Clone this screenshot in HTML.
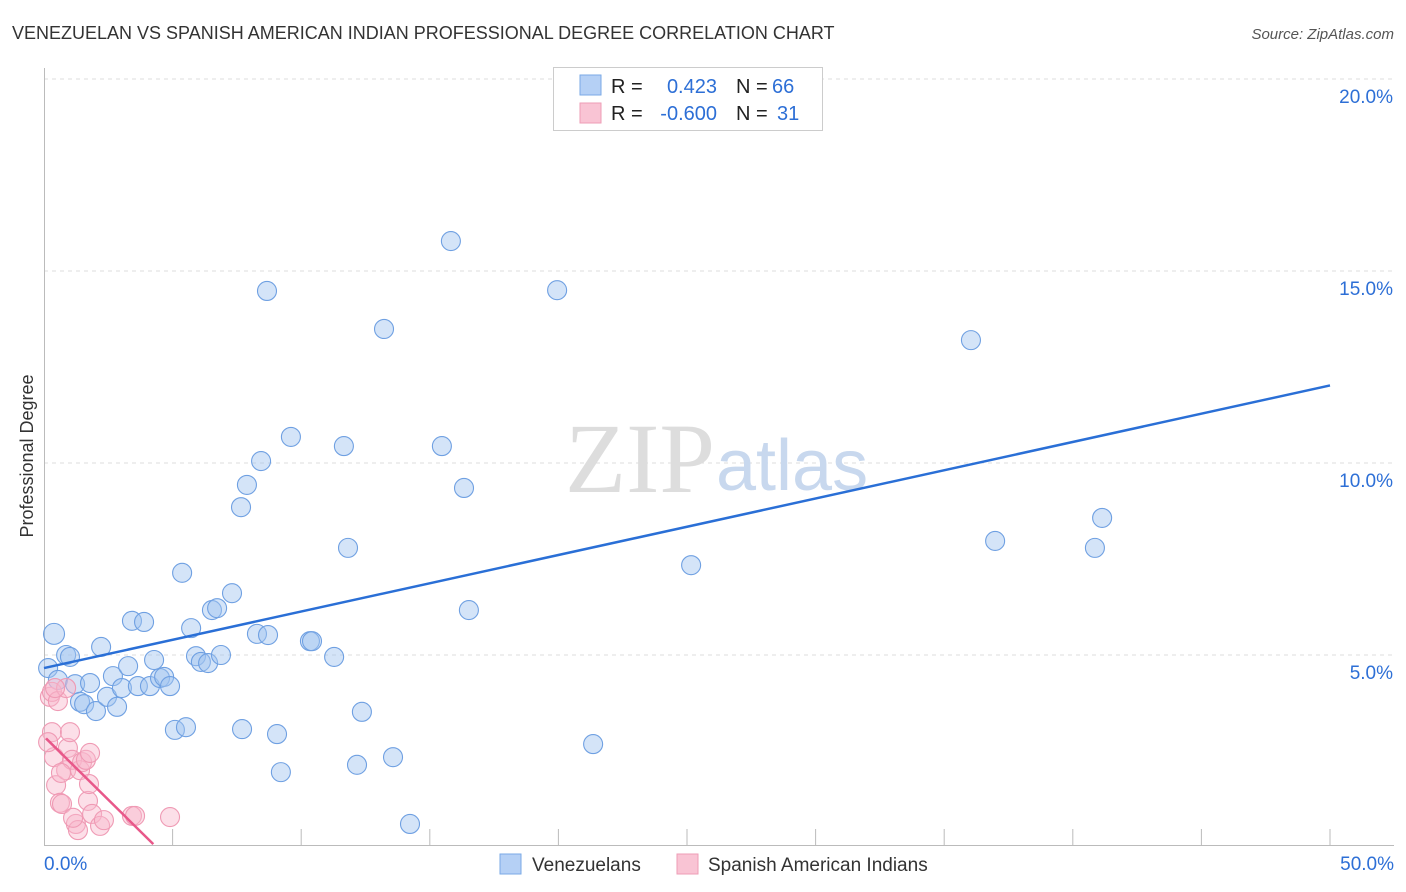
<!DOCTYPE html>
<html><head><meta charset="utf-8"><style>
body{margin:0;background:#fff;font-family:"Liberation Sans",sans-serif;}
svg{display:block}
</style></head><body>
<svg id="chart" width="1406" height="892" font-family="Liberation Sans, sans-serif">
<text x="12" y="39" font-size="18" fill="#333">VENEZUELAN VS SPANISH AMERICAN INDIAN PROFESSIONAL DEGREE CORRELATION CHART</text>
<text x="1394" y="39" font-size="15" fill="#555" font-style="italic" text-anchor="end">Source: ZipAtlas.com</text>
<text x="0" y="0" transform="translate(33,456) rotate(-90)" font-size="18" fill="#333" text-anchor="middle">Professional Degree</text>
<g id="grid"></g>
<text x="715" y="492" font-size="100" fill="#ddd" text-anchor="end" font-family="Liberation Serif, serif">ZIP</text>
<text x="716" y="490" font-size="72" fill="#c8d8ee">atlas</text>
<g id="pts"></g>
<g id="lines"></g>
<g>
<rect x="553.5" y="67.5" width="269" height="63" fill="#fff" stroke="#ccc"/>
<rect x="580" y="75" width="21" height="20" fill="#b5d0f5" stroke="#7aa9e6"/>
<rect x="580" y="103" width="21" height="20" fill="#f9c4d4" stroke="#ee9db6"/>
<text x="611" y="93" font-size="20" fill="#222">R =</text>
<text x="717" y="93" font-size="20" fill="#2d6fd6" text-anchor="end">0.423</text>
<text x="736" y="93" font-size="20" fill="#222">N =</text>
<text x="772" y="93" font-size="20" fill="#2d6fd6">66</text>
<text x="611" y="120" font-size="20" fill="#222">R =</text>
<text x="717" y="120" font-size="20" fill="#2d6fd6" text-anchor="end">-0.600</text>
<text x="736" y="120" font-size="20" fill="#222">N =</text>
<text x="777" y="120" font-size="20" fill="#2d6fd6">31</text>
</g>
<g>
<rect x="500" y="854" width="21" height="20" fill="#b5d0f5" stroke="#7aa9e6"/>
<text x="532" y="871" font-size="19" fill="#333">Venezuelans</text>
<rect x="677" y="854" width="21" height="20" fill="#f9c4d4" stroke="#ee9db6"/>
<text x="708" y="871" font-size="19" fill="#333">Spanish American Indians</text>
</g>
</svg>
<script>
const blueX=[0.39,0.16,0.54,0.86,1.01,1.21,1.40,1.56,1.79,2.02,2.22,2.45,2.68,2.84,3.03,3.27,3.42,3.65,3.89,4.12,4.28,4.51,4.67,4.90,5.09,5.37,5.52,5.72,5.91,6.10,6.38,6.53,6.73,6.88,7.31,7.66,7.70,7.89,8.28,8.44,8.67,8.71,9.06,9.21,9.60,10.34,10.42,11.28,11.66,11.82,12.17,12.36,13.22,13.57,14.23,15.47,15.82,16.33,16.52,19.95,21.35,25.16,36.04,36.98,40.86,41.14];
const blueY=[5.55,4.66,4.35,5.0,4.95,4.24,3.78,3.72,4.27,3.54,5.21,3.91,4.45,3.65,4.14,4.71,5.89,4.19,5.86,4.19,4.87,4.40,4.43,4.19,3.05,7.14,3.12,5.70,4.97,4.82,4.79,6.17,6.22,5.0,6.61,8.85,3.07,9.43,5.55,10.05,14.48,5.52,2.94,1.95,10.68,5.36,5.36,4.95,10.44,7.79,2.14,3.52,13.49,2.34,0.60,10.44,15.78,9.35,6.17,14.5,2.68,7.34,13.20,7.97,7.79,8.57];
const pinkX=[0.23,0.31,0.39,0.31,0.47,0.54,0.62,0.70,0.86,0.93,1.01,0.86,1.09,1.24,1.32,1.40,1.48,1.63,1.71,1.75,1.79,1.87,2.18,2.33,3.42,3.54,4.90,0.43,0.16,0.66,1.13];
const pinkY=[3.91,2.99,2.34,4.04,1.61,3.80,1.15,1.12,4.14,2.58,2.99,2.0,2.27,0.60,0.44,2.0,2.21,2.27,1.20,1.64,2.45,0.86,0.55,0.70,0.81,0.81,0.78,4.14,2.73,1.93,0.76];
const blueTrend=[4.66,12.02];
const pinkTrend=[2.88,-0.66];
const yTicks=[5,10,15,20];
const xTickVals=[5,10,15,20,25,30,35,40,45,50];
const NS="http://www.w3.org/2000/svg";
const sx=v=>44+v*1286/50, sy=v=>847-v*38.4;
function mk(tag,attrs,parent){const e=document.createElementNS(NS,tag);for(const k in attrs)e.setAttribute(k,attrs[k]);parent.appendChild(e);return e;}
const grid=document.getElementById('grid');
yTicks.forEach(t=>{
 const l=mk('line',{x1:44,x2:1394,y1:sy(t),y2:sy(t),stroke:'#ddd','stroke-dasharray':'4,4'},grid);
 
 
 const tx=mk('text',{x:1393,y:sy(t)+24,'font-size':19,fill:'#2d6fd6','text-anchor':'end'},grid);
 tx.textContent=t.toFixed(1)+'%';
 
 
});
const ax=mk('line',{x1:44.5,x2:44.5,y1:68,y2:846,stroke:'#bbb'},grid);


const bx=mk('line',{x1:44,x2:1394,y1:845.5,y2:845.5,stroke:'#bbb'},grid);


xTickVals.forEach(t=>{
 const l=mk('line',{x1:sx(t),x2:sx(t),y1:829,y2:846,stroke:'#bbb'},grid);
 
 
});
const x0=mk('text',{x:44,y:870,'font-size':19,fill:'#2d6fd6'},grid);x0.textContent='0.0%';


const x1=mk('text',{x:1394,y:870,'font-size':19,fill:'#2d6fd6','text-anchor':'end'},grid);x1.textContent='50.0%';


const pts=document.getElementById('pts');
blueX.forEach((x,i)=>{
 const c=mk('circle',{cx:sx(x),cy:sy(blueY[i]),r:i===0?10.5:9.5,fill:'rgba(160,196,240,0.45)',stroke:'#6fa0e2','stroke-width':1.1},pts);
 
 
});
pinkX.forEach((x,i)=>{
 const c=mk('circle',{cx:sx(x),cy:sy(pinkY[i]),r:9.5,fill:'rgba(248,184,204,0.45)',stroke:'#ef9ab4','stroke-width':1.1},pts);
 
 
});
const lines=document.getElementById('lines');
const bl=mk('line',{x1:sx(0),y1:sy(blueTrend[0]),x2:sx(50),y2:sy(blueTrend[1]),stroke:'#2a6fd6','stroke-width':2.5},lines);


const pe=4.25;
const pl=mk('line',{x1:sx(0.08),y1:sy(pinkTrend[0]+pinkTrend[1]*0.08),x2:sx(pe),y2:sy(pinkTrend[0]+pinkTrend[1]*pe),stroke:'#e8588a','stroke-width':2.5},lines);


</script>
</body></html>
